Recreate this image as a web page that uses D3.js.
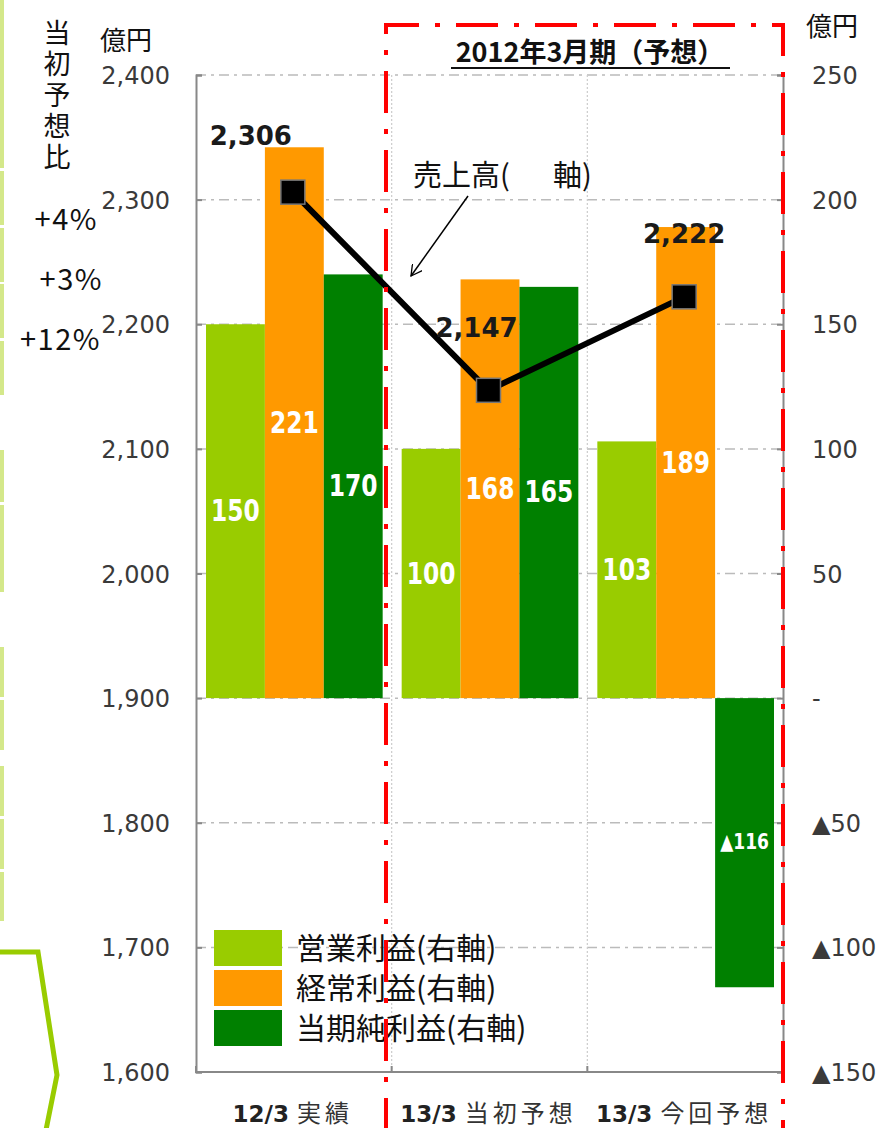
<!DOCTYPE html>
<html>
<head>
<meta charset="utf-8">
<script src="https://cdn.jsdelivr.net/npm/d3@7"></script>
<style>
  body { margin: 0; background: #fff; }
  svg { display: block; }
</style>
</head>
<body>
<svg id="viz"></svg>
<script>
// data
const categories = ["12/3 実績", "13/3 当初予想", "13/3 今回予想"]
const catBold = ["12/3", "13/3", "13/3"]
const catRest = ["実績", "当初予想", "今回予想"]
const seriesNames = ["営業利益(右軸)", "経常利益(右軸)", "当期純利益(右軸)"]
const opProfit = [150, 100, 103]
const ordProfit = [221, 168, 189]
const netProfit = [170, 165, -116]
const sales = [2306, 2147, 2222]
const leftTicks = [1600, 1700, 1800, 1900, 2000, 2100, 2200, 2300, 2400]
const rightTicks = [-150, -100, -50, 0, 50, 100, 150, 200, 250]
const ratioLabels = ["+4%", "+3%", "+12%"]

var width = 893,
    height = 1128
var margin = { top: 75, right: 110, bottom: 56, left: 196 }
const colors = ["#99cc00", "#ff9900", "#008000"]

var svg = d3.select("#viz")
    .attr("width", width)
    .attr("height", height)
    .attr("viewBox", [0, 0, width, height])

var x0 = d3.scaleBand()
    .domain(categories)
    .range([margin.left, width - margin.right])
var x1 = d3.scaleBand()
    .domain(seriesNames)
    .range([10, x0.bandwidth() - 9])
var yL = d3.scaleLinear()
    .domain([1600, 2400])
    .range([height - margin.bottom, margin.top])
var yR = d3.scaleLinear()
    .domain([-150, 250])
    .range([height - margin.bottom, margin.top])

const numFont = "'DejaVu Sans', Verdana, sans-serif"
const jpFont = "'Noto Sans CJK JP', sans-serif"

// decorations of the slide on the left
const sideBars = [[0, 168], [171, 225], [228, 282], [284, 338], [341, 395],
    [450, 502], [505, 592], [647, 697], [700, 750], [766, 816], [819, 869], [872, 921]]
svg.append("g").selectAll("rect").data(sideBars).join("rect")
    .attr("x", 0).attr("y", d => d[0]).attr("width", 4).attr("height", d => d[1] - d[0])
    .attr("fill", "#d4e88a")
svg.append("path")
    .attr("d", "M-5,952 L38,952 L57,1075 L45,1135")
    .attr("fill", "none").attr("stroke", "#99cc00").attr("stroke-width", 5)

// gridlines
svg.append("g").selectAll("line").data(leftTicks).join("line")
    .attr("x1", margin.left).attr("x2", width - margin.right)
    .attr("y1", d => yL(d)).attr("y2", d => yL(d))
    .attr("stroke", "#bbb").attr("stroke-width", 1.5)
    .attr("stroke-dasharray", "10,5,3,5")
svg.append("g").selectAll("line").data(categories.slice(1)).join("line")
    .attr("x1", d => x0(d)).attr("x2", d => x0(d))
    .attr("y1", margin.top).attr("y2", height - margin.bottom)
    .attr("stroke", "#ccc").attr("stroke-width", 1.2)
    .attr("stroke-dasharray", "2,2")

// bars
const barData = categories.map((c, i) => ({
    cat: c,
    vals: [opProfit[i], ordProfit[i], netProfit[i]].map((v, j) => ({ s: seriesNames[j], v: v, j: j }))
}))
var groups = svg.selectAll(".grp").data(barData).join("g").attr("class", "grp")
    .attr("transform", d => `translate(${x0(d.cat)},0)`)
groups.selectAll("rect").data(d => d.vals).join("rect")
    .attr("x", d => x1(d.s))
    .attr("width", x1.bandwidth())
    .attr("y", d => yR(Math.max(0, d.v)))
    .attr("height", d => Math.abs(yR(d.v) - yR(0)))
    .attr("fill", d => colors[d.j])
groups.selectAll("text").data(d => d.vals).join("text")
    .attr("transform", d => `translate(${x1(d.s) + x1.bandwidth() / 2},${(yR(0) + yR(d.v)) / 2 + (d.v < 0 ? 6 : 10)}) scale(1,1.15)`)
    .attr("text-anchor", "middle")
    .attr("fill", "#fff")
    .attr("font-family", "'DejaVu Sans Condensed', 'DejaVu Sans', sans-serif")
    .attr("font-weight", "bold")
    .attr("font-size", d => d.v < 0 ? 19 : 26)
    .text(d => d.v < 0 ? "▲" + Math.abs(d.v) : d.v)

// axes frame
var axisCol = "#888"
svg.append("g")
    .attr("transform", `translate(${margin.left},0)`)
    .call(d3.axisRight(yL).tickValues(leftTicks).tickSize(6).tickFormat(""))
    .call(g => g.selectAll("path,line").attr("stroke", axisCol).attr("stroke-width", 2))
svg.append("g")
    .attr("transform", `translate(${width - margin.right},0)`)
    .call(d3.axisLeft(yR).tickValues(rightTicks).tickSize(6).tickFormat(""))
    .call(g => g.selectAll("path,line").attr("stroke", axisCol).attr("stroke-width", 2))
svg.append("g")
    .attr("transform", `translate(0,${height - margin.bottom})`)
    .call(d3.axisTop(x0).tickValues(categories.slice(1)).tickSize(6).tickFormat("").offset(0))
    .call(g => g.selectAll("line").attr("stroke", axisCol).attr("stroke-width", 2).attr("transform", `translate(${-x0.bandwidth() / 2},0)`))
    .call(g => g.select("path").attr("stroke", axisCol).attr("stroke-width", 2))

// tick labels
svg.append("g").selectAll("text").data(leftTicks).join("text")
    .attr("x", 170).attr("y", d => yL(d) + 9)
    .attr("text-anchor", "end")
    .attr("font-family", numFont).attr("font-size", 24).attr("fill", "#3a3a3a")
    .text(d => d3.format(",")(d))
svg.append("g").selectAll("text").data(rightTicks).join("text")
    .attr("x", 812).attr("y", d => yR(d) + 9)
    .attr("font-family", numFont).attr("font-size", 24).attr("fill", "#3a3a3a")
    .text(d => d == 0 ? "-" : d < 0 ? "▲" + Math.abs(d) : d)

// category labels
var cl = svg.append("g").selectAll("text").data(categories).join("text")
    .attr("x", d => x0(d) + x0.bandwidth() / 2 - 1)
    .attr("y", height - 6)
    .attr("text-anchor", "middle")
    .attr("fill", "#222")
cl.append("tspan").attr("font-family", numFont).attr("font-weight", "bold").attr("font-size", 23)
    .text((d, i) => catBold[i] + " ")
cl.append("tspan").attr("font-family", jpFont).attr("font-size", 24).attr("letter-spacing", 4).attr("fill", "#333")
    .text((d, i) => catRest[i])

// sales line
var xc = d => x0(d) + x0.bandwidth() / 2 - 1
var line = d3.line().x((d, i) => xc(categories[i])).y(d => yL(d))
svg.append("path").datum(sales)
    .attr("d", line)
    .attr("fill", "none").attr("stroke", "#000").attr("stroke-width", 6)
svg.append("g").selectAll("rect").data(sales).join("rect")
    .attr("x", (d, i) => xc(categories[i]) - 12)
    .attr("y", d => yL(d) - 12)
    .attr("width", 24).attr("height", 24)
    .attr("fill", "#000").attr("stroke", "#777").attr("stroke-width", 1.5)
const salesLabelDx = [-42, -12, 0]
const salesLabelDy = [-56, -62, -63]
svg.append("g").selectAll("text").data(sales).join("text")
    .attr("x", (d, i) => xc(categories[i]) + salesLabelDx[i])
    .attr("y", (d, i) => yL(d) + salesLabelDy[i] + 9)
    .attr("text-anchor", "middle")
    .attr("font-family", numFont).attr("font-weight", "bold").attr("font-size", 26)
    .attr("fill", "#1a1a1a")
    .text(d => d3.format(",")(d))

// annotation for line
var ann = svg.append("text").attr("x", 413).attr("y", 186)
    .attr("font-family", jpFont).attr("font-size", 29).attr("fill", "#111")
ann.append("tspan").text("売上高(")
ann.append("tspan").attr("x", 553).text("軸)")
svg.append("defs").append("marker")
    .attr("id", "arr").attr("viewBox", "0 0 12 12").attr("refX", 11).attr("refY", 6)
    .attr("markerWidth", 12).attr("markerHeight", 12).attr("markerUnits", "userSpaceOnUse")
    .attr("orient", "auto")
    .append("path").attr("d", "M0,0 L11,6 L0,12").attr("fill", "none").attr("stroke", "#000").attr("stroke-width", 1.3)
svg.append("line")
    .attr("x1", 468).attr("y1", 196).attr("x2", 411).attr("y2", 276)
    .attr("stroke", "#000").attr("stroke-width", 1.5)
    .attr("marker-end", "url(#arr)")

// units and side notes
svg.append("text").attr("x", 100).attr("y", 50)
    .attr("font-family", jpFont).attr("font-size", 26).attr("fill", "#111").text("億円")
svg.append("text").attr("x", 806).attr("y", 36)
    .attr("font-family", jpFont).attr("font-size", 26).attr("fill", "#111").text("億円")
svg.append("text")
    .attr("x", 57).attr("y", 19)
    .style("writing-mode", "vertical-rl")
    .attr("font-family", jpFont).attr("font-size", 27).attr("letter-spacing", 4)
    .attr("fill", "#111")
    .text("当初予想比")
const ratioX = [98, 103, 101]
const ratioY = [230, 290, 350]
svg.append("g").selectAll("text").data(ratioLabels).join("text")
    .attr("x", (d, i) => ratioX[i]).attr("y", (d, i) => ratioY[i])
    .attr("text-anchor", "end")
    .attr("font-family", jpFont).attr("font-size", 29).attr("letter-spacing", 1.5).attr("fill", "#111")
    .text(d => d)

// legend
var lg = svg.append("g").selectAll("g").data(seriesNames).join("g")
    .attr("transform", (d, i) => `translate(214,${930 + i * 40})`)
lg.append("rect").attr("width", 68).attr("height", 36).attr("fill", (d, i) => colors[i])
lg.append("text").attr("x", 82).attr("y", 29)
    .attr("font-family", jpFont).attr("font-size", 30).attr("fill", "#111")
    .text(d => d)

// forecast box
svg.append("path")
    .attr("d", "M386,1140 L386,25 L783,25 L783,1140")
    .attr("fill", "none").attr("stroke", "#ff0000").attr("stroke-width", 4)
    .attr("stroke-dasharray", "42,16,5,16")
svg.append("text").attr("x", 590).attr("y", 62)
    .attr("text-anchor", "middle")
    .attr("font-family", jpFont).attr("font-weight", "bold").attr("font-size", 27).attr("fill", "#111")
    .text("2012年3月期（予想）")
svg.append("line").attr("x1", 451).attr("x2", 730).attr("y1", 68).attr("y2", 68)
    .attr("stroke", "#111").attr("stroke-width", 2)
</script>
</body>
</html>
